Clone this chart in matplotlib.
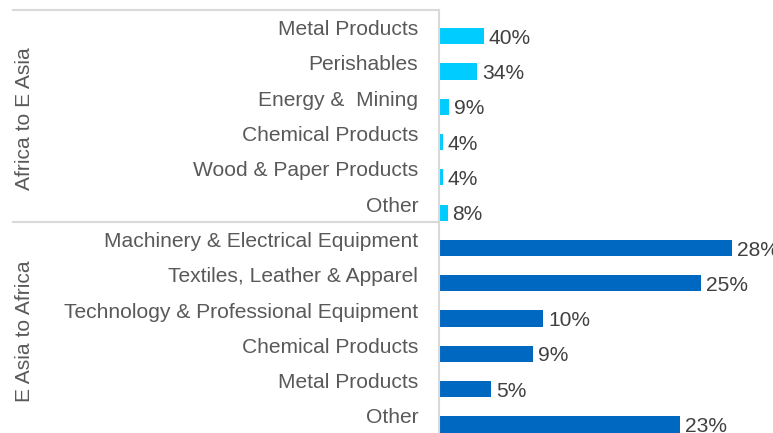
import matplotlib
matplotlib.use("Agg")
import matplotlib.pyplot as plt
from matplotlib.lines import Line2D

plt.rcParams["font.family"] = ["Liberation Sans", "DejaVu Sans"]

# Trade composition by route (share of value, %)
group_names = ["Africa to E Asia", "E Asia to Africa"]

africa_to_asia_cats = ["Metal Products", "Perishables", "Energy &  Mining",
                       "Chemical Products", "Wood & Paper Products", "Other"]
africa_to_asia_vals = [40, 34, 9, 4, 4, 8]

asia_to_africa_cats = ["Machinery & Electrical Equipment",
                       "Textiles, Leather & Apparel",
                       "Technology & Professional Equipment",
                       "Chemical Products", "Metal Products", "Other"]
asia_to_africa_vals = [28, 25, 10, 9, 5, 23]

W, H = 773, 433
fig = plt.figure(figsize=(W / 100, H / 100), dpi=100)

label_color = "#595959"
value_color = "#404040"
line_color = "#D9D9D9"
fs = 15.1

left_px = 438.5
top_px = 10
row_px = 35.3
n_rows = 6
group_h = n_rows * row_px


def make_axes(idx):
    y_top = top_px + idx * group_h
    return fig.add_axes([left_px / W, 1 - (y_top + group_h) / H,
                         (W - left_px) / W, group_h / H])


ax1 = make_axes(0)
ax2 = make_axes(1)

panels = [
    (ax1, africa_to_asia_cats, africa_to_asia_vals, "#00CCFF", 294),
    (ax2, asia_to_africa_cats, asia_to_africa_vals, "#0068C0", 31.9),
]

for ax, cats, vals, color, xmax in panels:
    pos = list(range(len(cats)))
    bar_pos = [p + 0.24 for p in pos]
    bars = ax.barh(bar_pos, vals, height=0.46, color=color)
    for b, v in zip(bars, vals):
        ax.annotate(f"{v}%", xy=(b.get_width(), b.get_y() + b.get_height() / 2),
                    xytext=(3.5, -1.5), textcoords="offset points",
                    ha="left", va="center", fontsize=fs, color=value_color,
                    annotation_clip=False)
    ax.set_ylim(len(cats) - 0.5, -0.5)
    ax.set_xlim(0, xmax)
    ax.set_yticks(pos)
    ax.set_yticklabels(cats, fontsize=fs, color=label_color)
    ax.tick_params(axis="y", length=0, pad=14.5)
    ax.set_xticks([])
    for s in ["top", "right", "bottom"]:
        ax.spines[s].set_visible(False)
    ax.spines["left"].set_color(line_color)
    ax.spines["left"].set_linewidth(1.5)
    ax.patch.set_alpha(0)

# Horizontal rules framing the category groups
for y_px in [top_px, top_px + group_h]:
    fig.add_artist(Line2D([13 / W, left_px / W], [1 - y_px / H, 1 - y_px / H],
                          color=line_color, linewidth=1.5,
                          transform=fig.transFigure))

# Group labels
for i, name in enumerate(group_names):
    yc = top_px + (i + 0.5) * group_h
    fig.text(25 / W, 1 - (yc + 3) / H, name, rotation=90, ha="center",
             va="center", fontsize=fs, color=label_color)

fig.savefig("out.png", dpi=100)
